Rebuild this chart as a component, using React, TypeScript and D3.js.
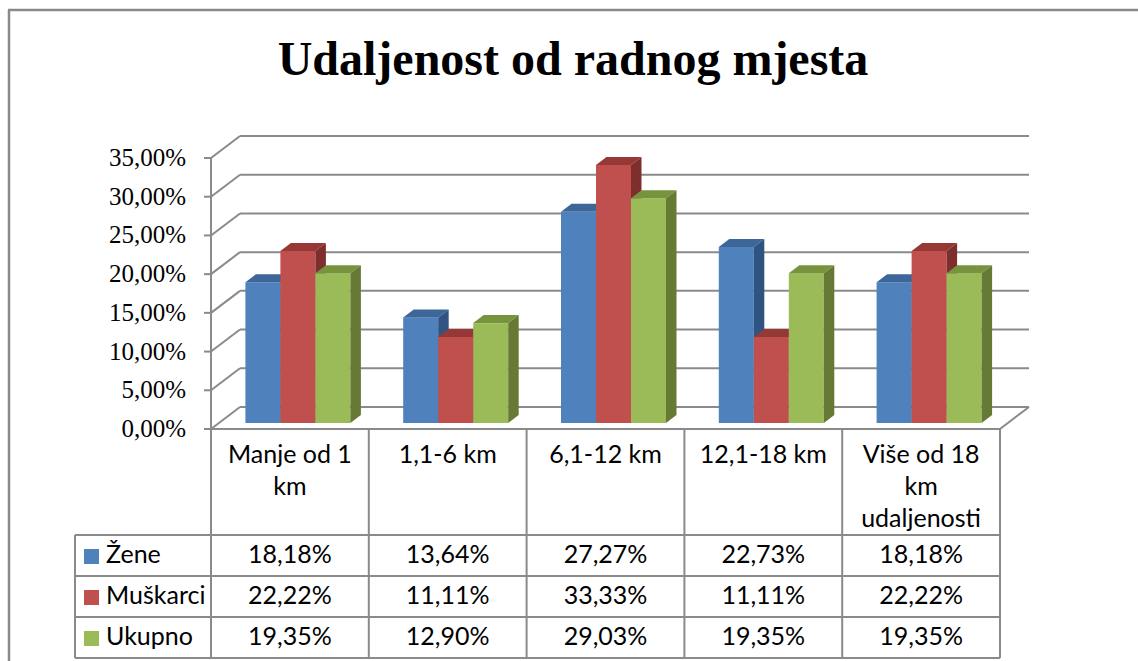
import React from 'react';
import { scaleBand, scaleLinear } from 'd3';

// podaci s grafikona
const categories = ['Manje od 1 km', '1,1-6 km', '6,1-12 km', '12,1-18 km', 'Više od 18 km udaljenosti'];
const categoryLines = [['Manje od 1', 'km'], ['1,1-6 km'], ['6,1-12 km'], ['12,1-18 km'], ['Više od 18', 'km', 'udaljenosti']];
const seriesNames = ['Žene', 'Muškarci', 'Ukupno'];
const zene = [18.18, 13.64, 27.27, 22.73, 18.18];
const muskarci = [22.22, 11.11, 33.33, 11.11, 22.22];
const ukupno = [19.35, 12.9, 29.03, 19.35, 19.35];
const yTicks = [0, 5, 10, 15, 20, 25, 30, 35];

const seriesValues = [zene, muskarci, ukupno];
const colors = [
  { front: '#4F81BD', top: '#3D6699', side: '#2F5481' },
  { front: '#C0504D', top: '#963836', side: '#7E2E2C' },
  { front: '#9BBB59', top: '#78933D', side: '#667A36' },
];

const fmt = (v: number) => v.toFixed(2).replace('.', ',') + '%';

export default function App() {
  const left = 211,
    right = 1000,
    base = 429;
  const depthX = 29,
    depthY = -22;
  const barShiftX = 8,
    barShiftY = -6;
  const barDX = 10.5,
    barDY = -8;
  const grid = '#8a8a8a';
  const serif = "'Liberation Serif', 'Times New Roman', serif";
  const sans = "Lato, 'Open Sans', sans-serif";

  const x = scaleBand<string>().domain(categories).range([left, right]);
  const bw = x.bandwidth();
  const groupW = 105;
  const xs = scaleBand<string>()
    .domain(seriesNames)
    .range([(bw - groupW) / 2, (bw + groupW) / 2]);
  const y = scaleLinear().domain([0, 35]).range([base, 158]);

  const tableLeft = 75;
  const rowTops = [535, 576, 617, 658];

  const bars: JSX.Element[] = [];
  categories.forEach((c, ci) => {
    seriesNames.forEach((s, si) => {
      const v = seriesValues[si][ci];
      const x0 = (x(c) as number) + (xs(s) as number) + barShiftX;
      const w = xs.bandwidth();
      const yt = y(v) + barShiftY;
      const yb = y(0) + barShiftY;
      const col = colors[si];
      bars.push(
        <g key={c + s}>
          <rect x={x0} y={yt} width={w} height={yb - yt} fill={col.front} />
          <polygon
            points={`${x0},${yt} ${x0 + w},${yt} ${x0 + w + barDX},${yt + barDY} ${x0 + barDX},${yt + barDY}`}
            fill={col.top}
          />
          <polygon
            points={`${x0 + w},${yt} ${x0 + w + barDX},${yt + barDY} ${x0 + w + barDX},${yb + barDY} ${x0 + w},${yb}`}
            fill={col.side}
          />
        </g>,
      );
    });
  });

  return (
    <svg
      width={1138}
      height={661}
      style={{ position: 'absolute', left: 0, top: 0, background: '#fff' }}
    >
      {/* okvir */}
      <line x1={9} y1={10} x2={9} y2={661} stroke={grid} strokeWidth={2.5} />
      <line x1={8} y1={10} x2={1138} y2={10} stroke={grid} strokeWidth={2.5} />

      <text x={573} y={75} textAnchor="middle" fontFamily={serif} fontWeight="bold" fontSize={48}>
        Udaljenost od radnog mjesta
      </text>

      {/* zidovi i mreža */}
      {yTicks.map((t) => (
        <g key={t}>
          <line x1={left + depthX} y1={y(t) + depthY} x2={right + depthX} y2={y(t) + depthY} stroke={grid} strokeWidth={2} />
          <line x1={left} y1={y(t)} x2={left + depthX} y2={y(t) + depthY} stroke={grid} strokeWidth={2} />
          <line x1={left - 7} y1={y(t)} x2={left} y2={y(t)} stroke={grid} strokeWidth={2} />
          <text x={186} y={y(t) + 8} textAnchor="end" fontFamily={serif} fontSize={25}>
            {fmt(t)}
          </text>
        </g>
      ))}
      <line x1={left} y1={y(0)} x2={left} y2={y(35)} stroke={grid} strokeWidth={2} />
      <line x1={right} y1={base} x2={right + depthX} y2={base + depthY} stroke={grid} strokeWidth={2} />

      {bars}

      {/* tablica podataka */}
      <g stroke={grid} strokeWidth={2}>
        <line x1={left} y1={base} x2={right} y2={base} />
        {rowTops.map((r) => (
          <line key={r} x1={tableLeft} y1={r} x2={right} y2={r} />
        ))}
        <line x1={tableLeft} y1={rowTops[0]} x2={tableLeft} y2={rowTops[3]} />
        {categories.map((c) => (
          <line key={c} x1={x(c)} y1={base} x2={x(c)} y2={rowTops[3]} />
        ))}
        <line x1={right} y1={base} x2={right} y2={rowTops[3]} />
      </g>
      <g fontFamily={sans} fontSize={25} textAnchor="middle" fill="#000">
        {categories.map((c, ci) =>
          categoryLines[ci].map((ln, li) => (
            <text key={c + li} x={(x(c) as number) + bw / 2} y={463 + li * 32}>
              {ln}
            </text>
          )),
        )}
        {seriesNames.map((s, si) =>
          categories.map((c, ci) => (
            <text key={s + c} x={(x(c) as number) + bw / 2} y={rowTops[si] + 28}>
              {fmt(seriesValues[si][ci])}
            </text>
          )),
        )}
      </g>
      {seriesNames.map((s, si) => (
        <g key={s}>
          <rect x={84} y={rowTops[si] + 14} width={15} height={15} fill={colors[si].front} />
          <text x={106} y={rowTops[si] + 28} fontFamily={sans} fontSize={25}>
            {s}
          </text>
        </g>
      ))}
    </svg>
  );
}
